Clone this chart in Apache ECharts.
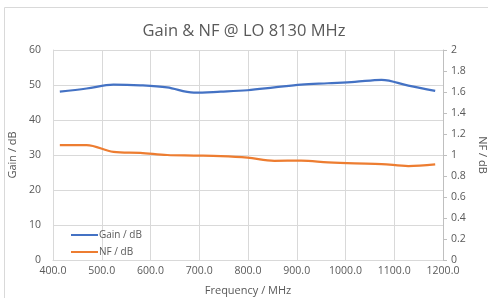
<!DOCTYPE html>
<html><head><meta charset="utf-8">
<script src="https://cdn.jsdelivr.net/npm/echarts@6/dist/echarts.min.js"></script>
<style>html,body{margin:0;padding:0;background:#fff}#c{width:488px;height:298px}</style>
</head><body><div id="c"></div>
<script>
var freq = [414, 469, 524, 579, 634, 689, 744, 799, 854, 909, 964, 1019, 1074, 1129, 1184];
var gain = [48.1, 49.0, 50.1, 49.9, 49.3, 47.8, 48.1, 48.5, 49.3, 50.1, 50.5, 50.9, 51.5, 49.8, 48.3];
var nf = [1.095, 1.095, 1.03, 1.02, 1.0, 0.995, 0.99, 0.975, 0.945, 0.946, 0.93, 0.92, 0.914, 0.895, 0.911];
var xTicks = {min: 400, max: 1200, interval: 100};

var chart = echarts.init(document.getElementById('c'));
var txt = '#595959', grid = '#d9d9d9', ff = '"Open Sans", "Liberation Sans", sans-serif';
chart.setOption({
  animation: false,
  graphic: [{type: 'rect', shape: {x: 4.5, y: 7.5, width: 500, height: 300}, style: {fill: null, stroke: '#d9d9d9', lineWidth: 1}}],
  title: {text: 'Gain & NF @ LO 8130 MHz', left: 'center', top: 18,
    textStyle: {color: txt, fontSize: 16.5, fontWeight: 'normal', fontFamily: ff}},
  grid: {left: 53, right: 45, top: 50, bottom: 38, containLabel: false, outerBoundsMode: 'none'},
  legend: {orient: 'vertical', left: 66, top: 225, itemWidth: 27, itemHeight: 2, itemGap: 7,
    icon: 'rect', textStyle: {color: txt, fontSize: 10, fontFamily: ff, padding: [0, 0, 0, -4]},
    data: ['Gain / dB', 'NF / dB']},
  xAxis: {type: 'value', min: xTicks.min, max: xTicks.max, interval: xTicks.interval,
    name: 'Frequency / MHz', nameLocation: 'middle', nameGap: 25,
    nameTextStyle: {color: txt, fontSize: 11, fontFamily: ff},
    axisLabel: {color: txt, fontSize: 10.5, fontFamily: ff, margin: 6, formatter: function (v) { return v.toFixed(1); }},
    axisLine: {lineStyle: {color: grid}}, axisTick: {show: false},
    splitLine: {lineStyle: {color: grid}}},
  yAxis: [
    {type: 'value', min: 0, max: 60, interval: 10, name: 'Gain / dB', nameLocation: 'middle', nameGap: 30,
      nameTextStyle: {color: txt, fontSize: 11, fontFamily: ff},
      axisLabel: {color: txt, fontSize: 10.5, fontFamily: ff, margin: 12},
      axisLine: {show: true, lineStyle: {color: grid}}, axisTick: {show: false},
      splitLine: {lineStyle: {color: grid}}},
    {type: 'value', min: 0, max: 2, interval: 0.2, position: 'right', name: 'NF / dB', nameLocation: 'middle', nameGap: 32,
      nameRotate: -90,
      nameTextStyle: {color: txt, fontSize: 11, fontFamily: ff},
      axisLabel: {color: txt, fontSize: 10.5, fontFamily: ff, margin: 8},
      axisLine: {show: true, lineStyle: {color: '#bfbfbf'}}, axisTick: {show: true, length: 4, lineStyle: {color: '#bfbfbf'}},
      splitLine: {show: false}}
  ],
  series: [
    {name: 'Gain / dB', type: 'line', yAxisIndex: 0, smooth: 0.35, showSymbol: false,
      lineStyle: {color: '#4472C4', width: 2.25}, itemStyle: {color: '#4472C4'},
      data: freq.map(function (f, i) { return [f, gain[i]]; })},
    {name: 'NF / dB', type: 'line', yAxisIndex: 1, smooth: 0.35, showSymbol: false,
      lineStyle: {color: '#ED7D31', width: 2.25}, itemStyle: {color: '#ED7D31'},
      data: freq.map(function (f, i) { return [f, nf[i]]; })}
  ]
});
</script></body></html>
